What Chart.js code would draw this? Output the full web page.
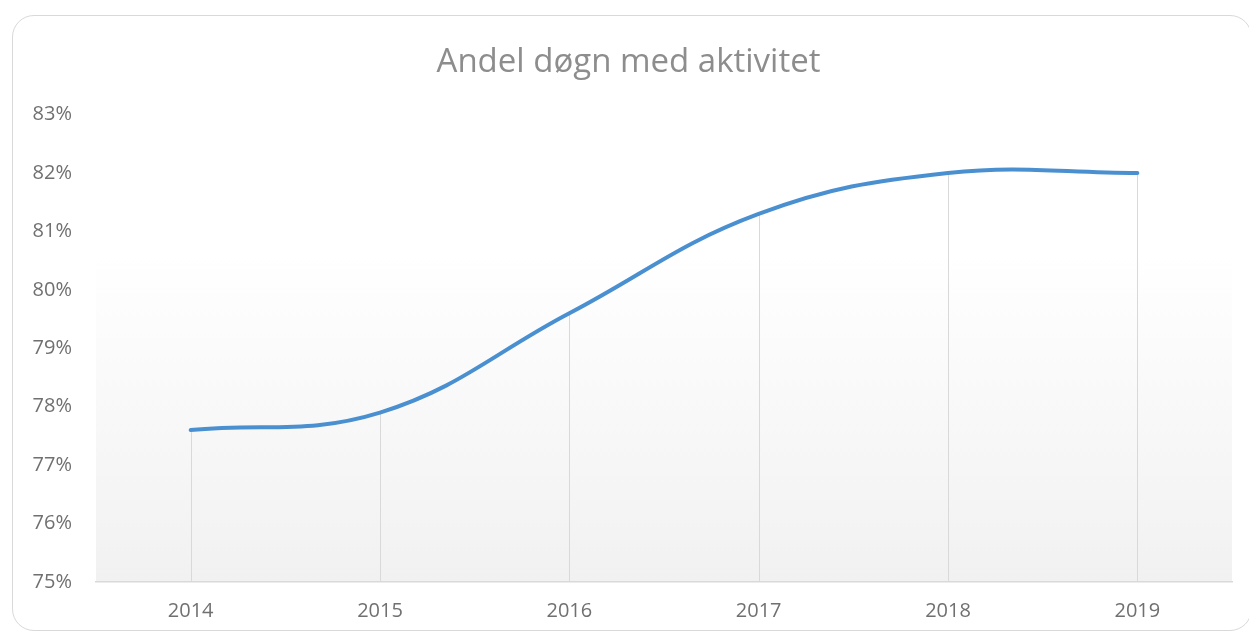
<!DOCTYPE html>
<html>
<head>
<meta charset="utf-8">
<script src="https://cdn.jsdelivr.net/npm/chart.js@4"></script>
<style>
  html, body { margin: 0; padding: 0; background: #fff; }
  #wrap { position: relative; width: 1249px; height: 633px; overflow: hidden; }
  #frame {
    position: absolute; left: 12px; top: 15px; width: 1240px; height: 616px;
    border: 1.5px solid #d9d9d9; border-radius: 22px; box-sizing: border-box;
  }
  #chart { position: absolute; left: 0; top: 0; }
</style>
</head>
<body>
<div id="wrap">
  <div id="frame"></div>
  <canvas id="chart" width="1249" height="633"></canvas>
</div>
<script>
// Andel døgn med aktivitet, per år
const years = ['2014', '2015', '2016', '2017', '2018', '2019'];
const shareActive = [77.6, 77.9, 79.6, 81.3, 82.0, 82.0];
const yTicks = [75, 76, 77, 78, 79, 80, 81, 82, 83];

const TEXT = '#707070';
const GRID = '#d9d9d9';
const LINE = '#4a90d0';
const FONT = "'Open Sans', sans-serif";

// soft vertical gradient behind the plot area
const plotBackground = {
  id: 'plotBackground',
  beforeDraw(chart) {
    const { ctx, chartArea: a } = chart;
    const g = ctx.createLinearGradient(0, a.top, 0, a.bottom);
    g.addColorStop(0, '#ffffff');
    g.addColorStop(0.3, '#ffffff');
    g.addColorStop(1, '#f1f1f1');
    ctx.save();
    ctx.fillStyle = g;
    ctx.fillRect(a.left, a.top, a.right - a.left, a.bottom - a.top);
    ctx.restore();
  },
};

// vertical drop lines from each point down to the x axis
const dropLines = {
  id: 'dropLines',
  beforeDatasetsDraw(chart) {
    const { ctx } = chart;
    const meta = chart.getDatasetMeta(0);
    const bottom = chart.scales.y.getPixelForValue(75);
    ctx.save();
    ctx.strokeStyle = GRID;
    ctx.lineWidth = 1;
    meta.data.forEach(pt => {
      const x = Math.round(pt.x) + 0.5;
      ctx.beginPath();
      ctx.moveTo(x, pt.y);
      ctx.lineTo(x, bottom);
      ctx.stroke();
    });
    ctx.restore();
  },
};

new Chart(document.getElementById('chart'), {
  type: 'line',
  data: {
    labels: years,
    datasets: [{
      data: shareActive,
      borderColor: LINE,
      borderWidth: 4,
      borderCapStyle: 'round',
      tension: 0.4,
      pointRadius: 0,
      fill: false,
    }],
  },
  options: {
    responsive: false,
    animation: false,
    layout: { padding: { left: 25, right: 17, top: 43, bottom: 8 } },
    plugins: {
      legend: { display: false },
      tooltip: { enabled: false },
      title: {
        display: true,
        text: 'Andel døgn med aktivitet',
        color: '#8d8d8d',
        font: { family: FONT, size: 33, weight: 'normal' },
        padding: { top: 0, bottom: 32 },
      },
    },
    scales: {
      x: {
        offset: true,
        afterFit: s => { s.height = 43; },
        grid: { display: false, drawTicks: false },
        border: { display: true, color: GRID, width: 1.5 },
        ticks: {
          color: TEXT,
          padding: 17,
          font: { family: FONT, size: 20 },
        },
      },
      y: {
        min: 75,
        max: 83,
        afterBuildTicks: s => { s.ticks = yTicks.map(v => ({ value: v })); },
        afterFit: s => { s.width = 71; },
        grid: { display: false, drawTicks: false },
        border: { display: false },
        ticks: {
          color: TEXT,
          padding: 24,
          font: { family: FONT, size: 20 },
          callback: v => v + '%',
        },
      },
    },
  },
  plugins: [plotBackground, dropLines],
});
</script>
</body>
</html>
